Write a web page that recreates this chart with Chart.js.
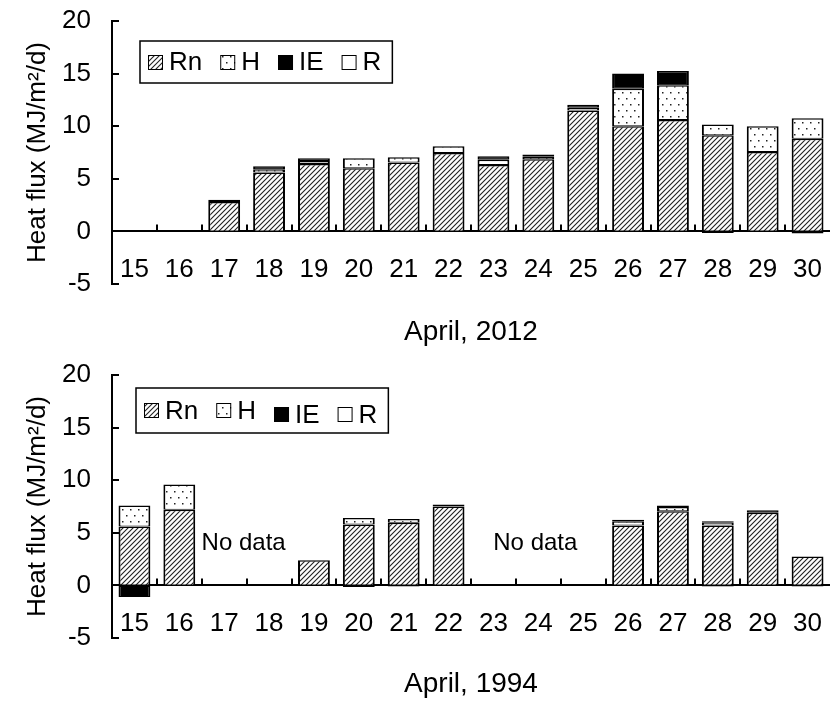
<!DOCTYPE html>
<html>
<head>
<meta charset="utf-8">
<script src="https://cdn.jsdelivr.net/npm/chart.js@4.4.0/dist/chart.umd.min.js"></script>
<style>
  html, body { margin: 0; padding: 0; background: #fff; }
  .panel { width: 830px; height: 351px; }
  canvas { display: block; }
</style>
</head>
<body>
<div class="panel"><canvas id="chart2012" width="830" height="351"></canvas></div>
<div class="panel"><canvas id="chart1994" width="830" height="351"></canvas></div>
<script>
// --- Dados ---
const days = ['15', '16', '17', '18', '19', '20', '21', '22', '23', '24', '25', '26', '27', '28', '29', '30'];
const seriesNames = ['Rn', 'H', 'IE', 'R'];
const yMin = -5;
const yMax = 20;
const yStep = 5;

// Abril 2012
const rn2012 = [null, null, 2.8, 5.6, 6.4, 6.0, 6.55, 7.45, 6.3, 6.85, 11.5, 10.0, 10.6, 9.15, 7.55, 8.8];
const h2012  = [null, null, null, 0.3, 0.3, 0.95, 0.5, 0.65, 0.5, 0.25, 0.25, 3.55, 3.3, 1.0, 2.45, 1.95];
const le2012 = [null, null, 0.2, 0.3, 0.25, null, null, null, 0.35, 0.2, 0.3, 1.45, 1.35, null, null, null];
const r2012  = [null, null, null, null, null, null, null, null, null, null, null, null, null, -0.15, null, -0.2];

// Abril 1994
const rn1994 = [5.6, 7.2, null, null, 2.4, 5.8, 5.95, 7.5, null, null, null, 5.7, 7.05, 5.7, 6.9, 2.75];
const h1994  = [2.0, 2.4, null, null, null, 0.6, 0.35, null, null, null, null, 0.4, 0.4, 0.3, null, null];
const le1994 = [-1.1, null, null, null, null, null, null, 0.2, null, null, null, 0.15, null, 0.1, 0.25, null];
const r1994  = [null, null, null, null, null, -0.15, -0.1, null, null, null, null, null, 0.15, -0.1, null, -0.1];

const noData1994 = [['17', '18'], ['23', '25']];

const FONT = '"Liberation Sans", Arial, sans-serif';

// --- Padrões de preenchimento ---
function hatchPattern(ctx) {
    const c = document.createElement('canvas');
    c.width = 5; c.height = 5;
    const g = c.getContext('2d');
    g.fillStyle = '#fff';
    g.fillRect(0, 0, 5, 5);
    g.strokeStyle = '#222';
    g.lineWidth = 1.1;
    g.beginPath();
    g.moveTo(-1, 6); g.lineTo(6, -1);
    g.moveTo(-1, 1); g.lineTo(1, -1);
    g.moveTo(4, 6); g.lineTo(6, 4);
    g.stroke();
    return ctx.createPattern(c, 'repeat');
}

function dotPattern(ctx) {
    const c = document.createElement('canvas');
    c.width = 8; c.height = 12;
    const g = c.getContext('2d');
    g.fillStyle = '#fff';
    g.fillRect(0, 0, 8, 12);
    g.fillStyle = '#222';
    g.fillRect(2, 2, 1.5, 1.5);
    g.fillRect(6, 8, 1.5, 1.5);
    return ctx.createPattern(c, 'repeat');
}

// --- Plugins ---
// marcas dos eixos voltadas para dentro
const axisTicks = {
    id: 'axisTicks',
    afterDraw(chart) {
        const { ctx, scales: { x, y } } = chart;
        const y0 = y.getPixelForValue(0);
        ctx.save();
        ctx.strokeStyle = '#000';
        ctx.lineWidth = 2;
        ctx.beginPath();
        for (let i = 1; i < days.length; i++) {
            const px = Math.round(x.getPixelForValue(i - 0.5));
            ctx.moveTo(px, y0);
            ctx.lineTo(px, y0 - 7);
        }
        for (let v = yMin; v <= yMax; v += yStep) {
            const py = Math.round(y.getPixelForValue(v));
            ctx.moveTo(x.left, py);
            ctx.lineTo(x.left + 7, py);
        }
        ctx.stroke();
        ctx.restore();
    }
};

// legenda com caixa, como no original
const legendBox = {
    id: 'legendBox',
    afterDraw(chart, args, opts) {
        const { ctx, chartArea } = chart;
        const x0 = chartArea.left + opts.dx;
        const y0 = chartArea.top + opts.dy;
        const h = opts.height;
        const sw = 15;
        ctx.save();
        ctx.font = '26px ' + FONT;
        ctx.textBaseline = 'middle';
        let x = x0 + 8;
        const items = [];
        chart.data.datasets.forEach((ds, i) => {
            const tw = ctx.measureText(ds.label).width;
            items.push({ x, ds, drop: (opts.drops || [])[i] || 0 });
            x += sw + 6 + tw + 18;
        });
        const w = x - 18 + 11 - x0;
        ctx.fillStyle = '#fff';
        ctx.fillRect(x0, y0, w, h);
        ctx.strokeStyle = '#000';
        ctx.lineWidth = 1.5;
        ctx.strokeRect(x0, y0, w, h);
        const cy = y0 + h / 2;
        items.forEach(it => {
            const sy = Math.round(cy - sw / 2 + it.drop);
            ctx.fillStyle = it.ds.backgroundColor;
            ctx.fillRect(it.x, sy, sw, sw);
            ctx.lineWidth = 1;
            ctx.strokeRect(it.x + 0.5, sy + 0.5, sw - 1, sw - 1);
            ctx.fillStyle = '#000';
            ctx.fillText(it.ds.label, it.x + sw + 6, cy + 1 + it.drop);
        });
        ctx.restore();
    }
};

// textos "No data"
const noDataText = {
    id: 'noDataText',
    afterDraw(chart, args, opts) {
        if (!opts.spans) return;
        const { ctx, scales: { x, y } } = chart;
        ctx.save();
        ctx.font = '24px ' + FONT;
        ctx.fillStyle = '#000';
        ctx.textAlign = 'center';
        ctx.textBaseline = 'middle';
        opts.spans.forEach(([a, b]) => {
            const px = (x.getPixelForValue(days.indexOf(a)) + x.getPixelForValue(days.indexOf(b))) / 2;
            ctx.fillText('No data', px - 3, y.getPixelForValue(opts.value));
        });
        ctx.restore();
    }
};

function buildChart(id, title, series, cfg) {
    const canvas = document.getElementById(id);
    const ctx = canvas.getContext('2d');
    const fills = [hatchPattern(ctx), dotPattern(ctx), '#000', '#fff'];
    const datasets = series.map((data, i) => ({
        label: seriesNames[i],
        data: data,
        backgroundColor: fills[i],
        borderColor: '#000',
        borderWidth: { top: 1.5, bottom: 1, left: 2, right: 2 },
        borderSkipped: false,
        categoryPercentage: 1,
        barPercentage: 0.71
    }));
    return new Chart(ctx, {
        type: 'bar',
        data: { labels: days, datasets: datasets },
        options: {
            responsive: false,
            animation: false,
            layout: { padding: { top: cfg.top, right: 0, bottom: 0, left: 0 } },
            plugins: {
                legend: { display: false },
                tooltip: { enabled: false },
                title: {
                    display: true,
                    position: 'bottom',
                    fullSize: false,
                    text: title,
                    color: '#000',
                    font: { family: FONT, size: 28, weight: 'normal' },
                    padding: { top: cfg.titleTop, bottom: cfg.titleBottom }
                },
                legendBox: cfg.legend,
                noDataText: cfg.noData || {}
            },
            scales: {
                x: {
                    stacked: true,
                    position: { y: 0 },
                    // marcas invisíveis só para afastar os rótulos do eixo
                    grid: { display: false, drawTicks: true, tickLength: 23 },
                    border: { color: '#000', width: 2 },
                    ticks: {
                        color: '#000',
                        font: { family: FONT, size: 26 },
                        padding: 0,
                        maxRotation: 0,
                        autoSkip: false
                    }
                },
                y: {
                    stacked: true,
                    min: yMin,
                    max: yMax,
                    afterFit(scale) { scale.width = 112; },
                    ticks: {
                        stepSize: yStep,
                        color: '#000',
                        font: { family: FONT, size: 26 },
                        padding: 2
                    },
                    grid: { display: false, drawTicks: true, tickLength: 19 },
                    border: { color: '#000', width: 2 },
                    title: {
                        display: true,
                        text: 'Heat flux (MJ/m²/d)',
                        color: '#000',
                        font: { family: FONT, size: 26 },
                        padding: { top: 22, bottom: 0 }
                    }
                }
            }
        },
        plugins: [axisTicks, legendBox, noDataText]
    });
}

buildChart('chart2012', 'April, 2012', [rn2012, h2012, le2012, r2012], {
    top: 21, titleTop: 31.7, titleBottom: 1.7,
    legend: { dx: 28, dy: 20, height: 42 }
});

buildChart('chart1994', 'April, 1994', [rn1994, h1994, le1994, r1994], {
    top: 24, titleTop: 29.2, titleBottom: 1.2,
    legend: { dx: 24, dy: 13, height: 45, drops: [0, 0, 4, 4] },
    noData: { spans: noData1994, value: 4 }
});
</script>
</body>
</html>
